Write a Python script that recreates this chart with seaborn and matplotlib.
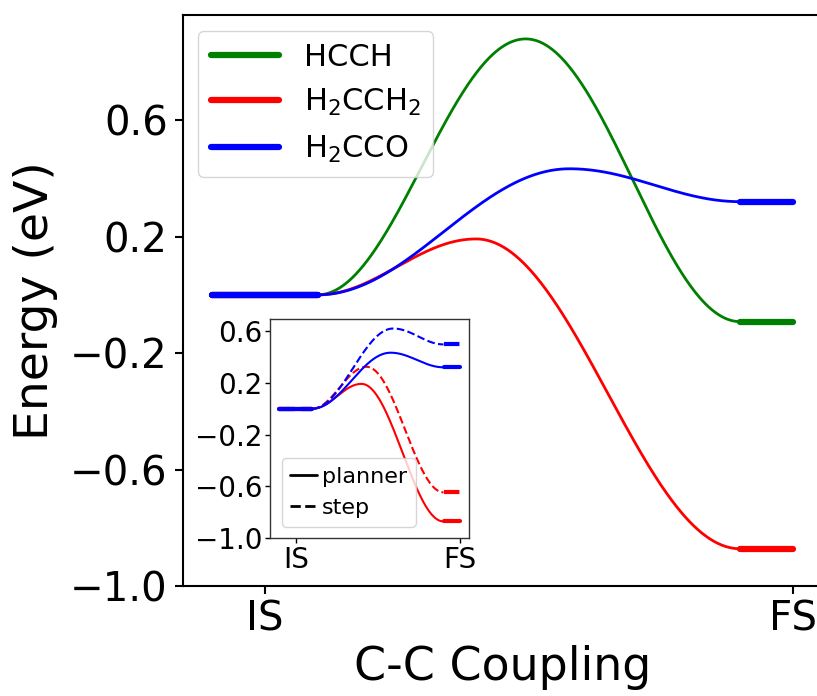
import numpy as np
import pandas as pd
import matplotlib
matplotlib.use("Agg")
import matplotlib.pyplot as plt
import seaborn as sns
from matplotlib.lines import Line2D

# ---------------- data ----------------
species = ["HCCH", "H$_2$CCH$_2$", "H$_2$CCO"]
colors = ["green", "red", "blue"]
E_IS = [0.0, 0.0, 0.0]
x_TS = [0.494, 0.400, 0.577]
E_TS = [0.879, 0.192, 0.433]
E_FS = [-0.092, -0.872, 0.320]

inset_species = ["H$_2$CCH$_2$", "H$_2$CCO"]
inset_colors = ["red", "blue"]
planner_E_IS = [0.0, 0.0]
planner_x_TS = [0.400, 0.577]
planner_E_TS = [0.192, 0.433]
planner_E_FS = [-0.872, 0.320]
step_E_IS = [0.0, 0.0]
step_x_TS = [0.431, 0.593]
step_E_TS = [0.324, 0.620]
step_E_FS = [-0.647, 0.497]

x_ticks = [0, 1]
x_labels = ["IS", "FS"]
main_yticks = [-1.0, -0.6, -0.2, 0.2, 0.6]
inset_yticks = [-1.0, -0.6, -0.2, 0.2, 0.6]
xlabel = "C-C Coupling"
ylabel = "Energy (eV)"

# --------------- helpers ---------------
IS_SPAN = (-0.1, 0.1)
FS_SPAN = (0.9, 1.0)


def smooth_path(e_is, x_ts, e_ts, e_fs, n=200):
    x1 = np.linspace(IS_SPAN[1], x_ts, n)
    t1 = (x1 - IS_SPAN[1]) / (x_ts - IS_SPAN[1])
    y1 = e_is + (e_ts - e_is) * (1 - np.cos(np.pi * t1)) / 2
    x2 = np.linspace(x_ts, FS_SPAN[0], n)
    t2 = (x2 - x_ts) / (FS_SPAN[0] - x_ts)
    y2 = e_ts + (e_fs - e_ts) * (1 - np.cos(np.pi * t2)) / 2
    return np.concatenate([x1, x2[1:]]), np.concatenate([y1, y2[1:]])


def build_frames(names, e_is, x_ts, e_ts, e_fs, method):
    curves, levels = [], []
    for k, name in enumerate(names):
        xx, yy = smooth_path(e_is[k], x_ts[k], e_ts[k], e_fs[k])
        curves.append(pd.DataFrame({"x": xx, "E": yy, "species": name,
                                    "method": method, "seg": name + method}))
        levels.append(pd.DataFrame({"x": list(IS_SPAN), "E": [e_is[k]] * 2,
                                    "species": name, "method": method,
                                    "seg": name + method + "IS"}))
        levels.append(pd.DataFrame({"x": list(FS_SPAN), "E": [e_fs[k]] * 2,
                                    "species": name, "method": method,
                                    "seg": name + method + "FS"}))
    return pd.concat(curves, ignore_index=True), pd.concat(levels, ignore_index=True)


sns.set_theme(style="ticks")
plt.rcParams["font.family"] = ["DejaVu Sans"]
plt.rcParams["mathtext.fontset"] = "dejavusans"
plt.rcParams["text.color"] = "black"
plt.rcParams["axes.labelcolor"] = "black"
plt.rcParams["xtick.color"] = "black"
plt.rcParams["ytick.color"] = "black"

fig = plt.figure(figsize=(8.17, 6.96), dpi=100)
ax = fig.add_axes([0.224, 0.158, 0.782, 0.820])

pal_main = dict(zip(species, colors))
curves, levels = build_frames(species, E_IS, x_TS, E_TS, E_FS, "planner")
sns.lineplot(data=curves, x="x", y="E", hue="species", units="seg",
             estimator=None, sort=False, palette=pal_main, lw=2.0,
             legend=False, ax=ax)
sns.lineplot(data=levels, x="x", y="E", hue="species", units="seg",
             estimator=None, sort=False, palette=pal_main, lw=4.5,
             legend=False, ax=ax)

ax.set_xlim(-0.155, 1.055)
ax.set_ylim(-1.0, 0.96)
ax.set_xticks(x_ticks)
ax.set_xticklabels(x_labels)
ax.set_yticks(main_yticks)
ax.tick_params(axis="both", labelsize=29, length=6, width=1.5)
ax.tick_params(axis="y", pad=5)
ax.tick_params(axis="x", pad=4)
for s in ax.spines.values():
    s.set_linewidth(1.5)
    s.set_color("black")
ax.set_xlabel(xlabel, fontsize=33)
ax.set_ylabel(ylabel, fontsize=34)
ax.xaxis.set_label_coords(0.50, -0.103)
ax.yaxis.set_label_coords(-0.196, 0.5)

handles = [Line2D([], [], color=c, lw=4.5) for c in colors]
ax.legend(handles, species, loc="upper left", fontsize=22,
          handlelength=2.25, handletextpad=0.8, borderaxespad=0.5,
          frameon=True)

# ---------------- inset ----------------
ins = fig.add_axes([0.331, 0.227, 0.243, 0.314])
pal_in = dict(zip(inset_species, inset_colors))
c_p, l_p = build_frames(inset_species, planner_E_IS, planner_x_TS,
                        planner_E_TS, planner_E_FS, "planner")
c_s, l_s = build_frames(inset_species, step_E_IS, step_x_TS,
                        step_E_TS, step_E_FS, "step")
dash_map = {"planner": "", "step": (3.7, 1.6)}
sns.lineplot(data=pd.concat([c_p, c_s]), x="x", y="E", hue="species",
             style="method", dashes=dash_map, units="seg", estimator=None,
             sort=False, palette=pal_in, lw=1.5, legend=False, ax=ins)
sns.lineplot(data=pd.concat([l_p, l_s]), x="x", y="E", hue="species",
             style="method", dashes=dash_map, units="seg", estimator=None,
             sort=False, palette=pal_in, lw=3.0, legend=False, ax=ins)
ins.set_xlim(-0.155, 1.055)
ins.set_ylim(-1.0, 0.69)
ins.set_xticks(x_ticks)
ins.set_xticklabels(x_labels)
ins.set_yticks(inset_yticks)
ins.set_xlabel("")
ins.set_ylabel("")
ins.tick_params(axis="both", labelsize=20, length=3.5, width=1.0, pad=2)
for s in ins.spines.values():
    s.set_linewidth(1.0)
    s.set_color("#333333")
ins_handles = [Line2D([], [], color="black", lw=2.0),
               Line2D([], [], color="black", lw=2.0, ls="--")]
ins.legend(ins_handles, ["planner", "step"], loc="lower left", fontsize=16,
           handlelength=1.2, handletextpad=0.2, borderaxespad=0.5)

fig.savefig("out.png", dpi=100)
